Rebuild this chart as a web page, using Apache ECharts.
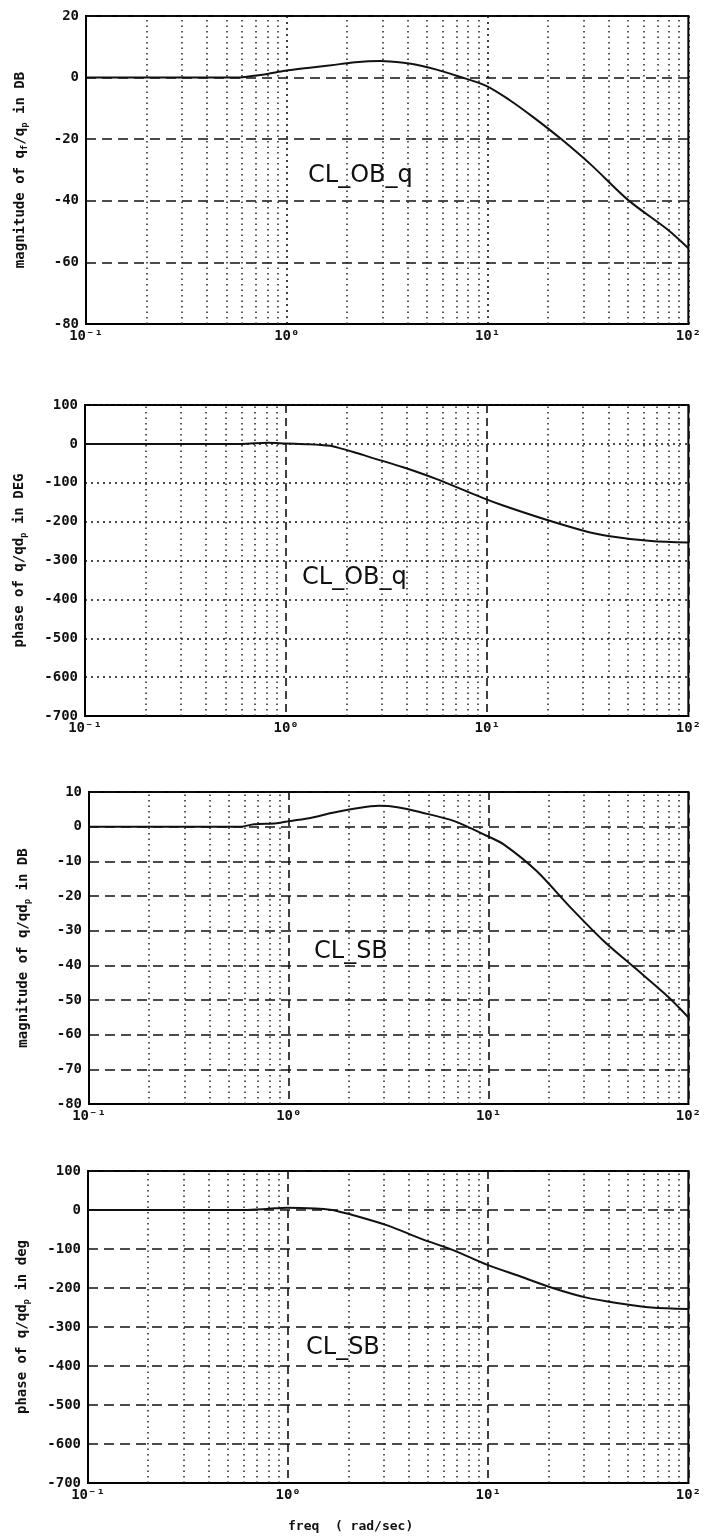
<!DOCTYPE html>
<html><head><meta charset="utf-8">
<script src="https://cdn.jsdelivr.net/npm/echarts@6/dist/echarts.min.js"></script>
<style>html,body{margin:0;padding:0;background:#fff}#c{width:704px;height:1539px}</style>
</head><body><div id="c"></div>
<script>
// ---- data ----
const xTickValues = [0.1, 1, 10, 100];
const xTickLabels = ['10\u207B\u00B9', '10\u2070', '10\u00B9', '10\u00B2'];
const minorFreqs = [0.2,0.3,0.4,0.5,0.6,0.7,0.8,0.9, 2,3,4,5,6,7,8,9, 20,30,40,50,60,70,80,90];

// Panel 1: CL_OB_q magnitude (dB)
const magOB_f  = [0.1, 0.2, 0.4, 0.575, 0.67, 0.8, 0.98, 1.3, 1.66, 2.19, 2.93, 3.82, 4.6, 5.57, 7.26, 9.84, 12.8, 17, 23.5, 33, 50, 79, 100];
const magOB_db = [0, 0, 0, 0, 0.5, 1.2, 2.2, 3.2, 4.0, 5.0, 5.4, 4.8, 3.9, 2.6, 0.3, -2.7, -7.2, -13, -20.2, -28.5, -39.7, -49.4, -55.4];

// Panel 2: CL_OB_q phase (deg)
const phOB_f   = [0.1, 0.3, 0.6, 0.81, 1.0, 1.3, 1.66, 1.79, 2.2, 2.61, 3.82, 5.57, 9.49, 11.9, 18.8, 29.5, 39.9, 65.3, 100];
const phOB_deg = [0, 0, 0, 3, 1, -1, -5, -9, -22, -34, -60, -90, -139, -158, -192, -222, -237, -250, -254];

// Panel 3: CL_SB magnitude (dB)
const magSB_f  = [0.1, 0.3, 0.575, 0.67, 0.87, 1.01, 1.3, 1.66, 2.19, 2.82, 3.5, 4.61, 6.74, 9.84, 11.9, 17.4, 25.4, 37.1, 54.1, 78.9, 100];
const magSB_db = [0, 0, 0, 0.7, 1.0, 1.6, 2.6, 4.0, 5.3, 6.0, 5.6, 4.1, 1.6, -2.7, -5.1, -12.8, -23, -32.6, -40.8, -49, -55];

// Panel 4: CL_SB phase (deg)
const phSB_f   = [0.1, 0.3, 0.6, 0.8, 0.98, 1.37, 1.66, 1.79, 2.08, 3.16, 4.63, 6.77, 9.84, 14.4, 21, 30.6, 44.8, 65.3, 100];
const phSB_deg = [0, 0, 0, 3, 6, 4, 0, -4, -12, -40, -74, -104, -140, -170, -200, -224, -239, -250, -254];

const yTitles = ['magnitude of q{s|f}/q{s|p} in DB', 'phase of q/qd{s|p} in DEG', 'magnitude of q/qd{s|p} in DB', 'phase of q/qd{s|p} in deg'];
const notes = ['CL_OB_q', 'CL_OB_q', 'CL_SB', 'CL_SB'];
const yRanges = [[-80, 20, 20], [-700, 100, 100], [-80, 10, 10], [-700, 100, 100]];

// ---- chart ----
const zip = (a, b) => a.map((v, i) => [v, b[i]]);
const seriesData = [zip(magOB_f, magOB_db), zip(phOB_f, phOB_deg), zip(magSB_f, magSB_db), zip(phSB_f, phSB_deg)];

const grids = [
  {left: 86, top: 16, width: 608, height: 308},
  {left: 85, top: 405, width: 608, height: 311},
  {left: 89, top: 792, width: 604, height: 312},
  {left: 88, top: 1171, width: 605, height: 312}
];
const hType = [[10, 6], [2, 4], [10, 6], [10, 6]];
const vType = [[2, 4], [8, 5], [8, 5], [8, 5]];
const labelFont = {fontFamily: 'DejaVu Sans Mono', fontWeight: 'bold', fontSize: 14, color: '#111'};

const option = {
  animation: false,
  backgroundColor: '#fff',
  grid: grids.map(g => Object.assign({show: true, borderColor: '#000', borderWidth: 2, backgroundColor: 'transparent'}, g)),
  xAxis: grids.map((g, i) => ({
    type: 'log', logBase: 10, min: 0.1, max: 100, gridIndex: i,
    axisLine: {show: true, onZero: false, lineStyle: {color: '#000', width: 2}},
    axisTick: {show: false},
    axisLabel: Object.assign({margin: 5, formatter: v => {
      const k = xTickValues.findIndex(t => Math.abs(Math.log10(t) - Math.log10(v)) < 1e-6);
      return k >= 0 ? xTickLabels[k] : '';
    }}, labelFont),
    splitLine: {show: true, lineStyle: {color: '#111', width: 1.6, type: vType[i]}}
  })),
  yAxis: grids.map((g, i) => ({
    type: 'value', gridIndex: i, min: yRanges[i][0], max: yRanges[i][1], interval: yRanges[i][2],
    axisLine: {show: true, onZero: false, lineStyle: {color: '#000', width: 2}},
    axisTick: {show: false},
    axisLabel: Object.assign({margin: 7}, labelFont),
    splitLine: {show: true, lineStyle: {color: '#111', width: 1.6, type: hType[i]}},
    name: yTitles[i], nameLocation: 'middle', nameRotate: 90, nameGap: 57,
    nameTextStyle: {fontFamily: 'DejaVu Sans Mono', fontWeight: 'bold', fontSize: 14, color: '#111',
      rich: {s: {fontFamily: 'DejaVu Sans Mono', fontWeight: 'bold', fontSize: 9, color: '#111', padding: [8, 0, 0, 0]}}}
  })),
  series: seriesData.map((d, i) => ({
    type: 'line', xAxisIndex: i, yAxisIndex: i, data: d, showSymbol: false, smooth: 0.3,
    lineStyle: {color: '#111', width: 2},
    z: 5,
    markLine: {
      silent: true, symbol: ['none', 'none'], label: {show: false}, animation: false,
      lineStyle: {color: '#222', width: 1.5, type: [1.5, 4]},
      data: minorFreqs.map(v => ({xAxis: v}))
    }
  })),
  graphic: [
    {type: 'text', left: 308, top: 164, style: {text: notes[0], font: '24px "DejaVu Sans"', fill: '#111'}},
    {type: 'text', left: 302, top: 566, style: {text: notes[1], font: '24px "DejaVu Sans"', fill: '#111'}},
    {type: 'text', left: 314, top: 940, style: {text: notes[2], font: '24px "DejaVu Sans"', fill: '#111'}},
    {type: 'text', left: 306, top: 1336, style: {text: notes[3], font: '24px "DejaVu Sans"', fill: '#111'}},
    {type: 'text', left: 288, top: 1520, style: {text: 'freq  ( rad/sec)', font: 'bold 13px "DejaVu Sans Mono"', fill: '#111'}}
  ]
};
const chart = echarts.init(document.getElementById('c'), null, {renderer: 'canvas'});
chart.setOption(option);
</script>
</body></html>
